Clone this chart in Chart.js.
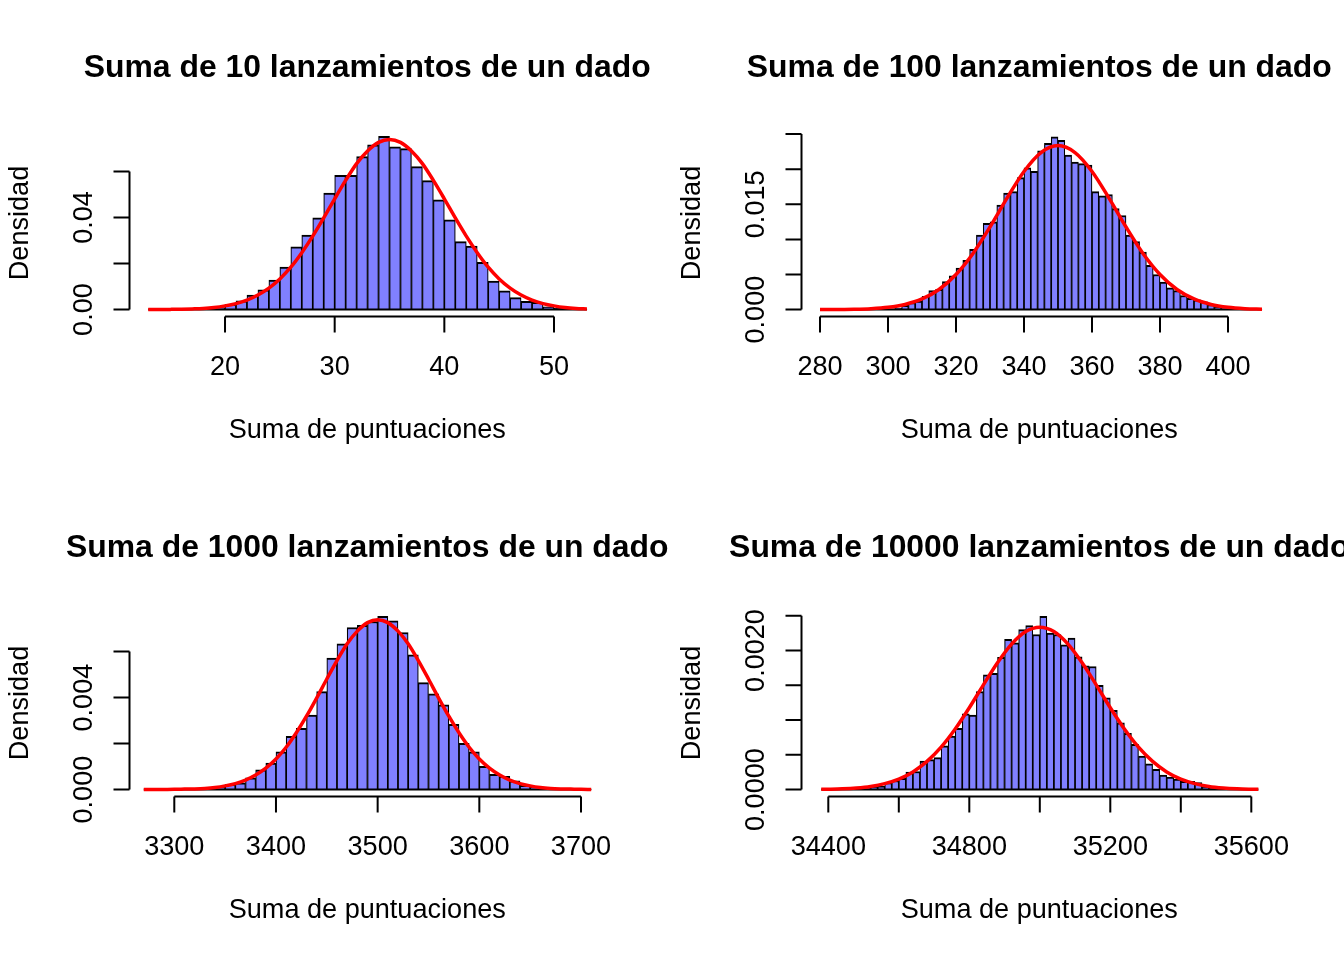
<!DOCTYPE html>
<html>
<head>
<meta charset="utf-8">
<script src="https://cdn.jsdelivr.net/npm/chart.js@4.4.1/dist/chart.umd.min.js"></script>
<style>
  body { margin: 0; background: #fff; }
  #lienzo { position: relative; width: 1344px; height: 960px; }
  canvas { position: absolute; }
</style>
</head>
<body>
<div id="lienzo">
  <canvas id="c10" width="672" height="480" style="left:0;top:0"></canvas>
  <canvas id="c100" width="672" height="480" style="left:672px;top:0"></canvas>
  <canvas id="c1000" width="672" height="480" style="left:0;top:480px"></canvas>
  <canvas id="c10000" width="672" height="480" style="left:672px;top:480px"></canvas>
</div>
<script>
// ---- Suma de 10 lanzamientos (clases de ancho 1) ----
var inicio10 = [13,14,15,16,17,18,19,20,21,22,23,24,25,26,27,28,29,30,31,32,33,34,35,36,37,38,39,40,41,42,43,44,45,46,47,48,49,50,51,52];
var dens10 = [0,0,0.0001,0.0001,0.0003,0.0005,0.0009,0.0023,0.0038,0.0063,0.0086,0.0128,0.0185,0.0272,0.0324,0.0398,0.0506,0.0583,0.0583,0.0664,
  0.0715,0.0752,0.0707,0.0699,0.0621,0.0560,0.0477,0.0390,0.0295,0.0276,0.0205,0.0124,0.0081,0.0052,0.0036,0.0032,0.0012,0.0005,0.0002,0.0001];
var curvaX10 = [13,14,15,16,17,18,19,20,21,22,23,24,25,26,27,28,29,30,31,32,33,34,35,36,37,38,39,40,41,42,43,44,45,46,47,48,49,50,51,52,53];
var curvaY10 = [0.00002,0.00004,0.00008,0.00015,0.0003,0.0005,0.0009,0.0016,0.0026,0.0041,0.0063,0.0093,0.0133,0.0184,0.0247,0.0319,0.0398,0.0481,0.0561,0.0634,
  0.0689,0.0726,0.0739,0.0726,0.0689,0.0634,0.0561,0.0481,0.0398,0.0319,0.0247,0.0184,0.0133,0.0093,0.0063,0.0041,0.0026,0.0016,0.0009,0.0005,0.0003];
var ticksX10 = [20,30,40,50];
var ticksY10 = [0,0.02,0.04,0.06];
var etiqY10 = ['0.00','','0.04',''];

// ---- Suma de 100 lanzamientos (ancho 2) ----
var inicio100 = [280,282,284,286,288,290,292,294,296,298,300,302,304,306,308,310,312,314,316,318,320,322,324,326,328,330,332,334,336,338,340,342,344,346,348,
  350,352,354,356,358,360,362,364,366,368,370,372,374,376,378,380,382,384,386,388,390,392,394,396,398,400,402,404,406,408];
var dens100 = [0,0,0,0,0,0.00001,0.00002,0.00003,0.00005,0.0001,0.0001,0.0002,0.0006,0.0010,0.0012,0.0019,0.0027,0.0029,0.0040,0.0048,0.0059,0.0070,0.0086,0.0106,0.0123,
  0.0125,0.0149,0.0166,0.0168,0.0188,0.0202,0.0197,0.0226,0.0237,0.0246,0.0241,0.0220,0.0210,0.0208,0.0206,0.0168,0.0162,0.0164,0.0144,0.0134,0.0106,0.0097,0.0082,
  0.0063,0.0050,0.0039,0.0031,0.0027,0.0020,0.0016,0.0014,0.0011,0.0007,0.0004,0.0003,0.0002,0.0001,0.00005,0.00002,0.00001];
var curvaX100 = [280,285,290,295,300,305,310,315,320,325,330,335,340,345,350,355,360,365,370,375,380,385,390,395,400,405,410];
var curvaY100 = [0.000005,0.00002,0.00005,0.00013,0.00032,0.00073,0.00151,0.00286,0.00500,0.00800,0.01177,0.01588,0.01968,0.02237,0.02336,
  0.02237,0.01968,0.01588,0.01177,0.00800,0.00500,0.00286,0.00151,0.00073,0.00032,0.00013,0.00005];
var ticksX100 = [280,300,320,340,360,380,400];
var ticksY100 = [0,0.005,0.010,0.015,0.020,0.025];
var etiqY100 = ['0.000','','','0.015','',''];

// ---- Suma de 1000 lanzamientos (ancho 10) ----
var inicio1000 = [3270,3280,3290,3300,3310,3320,3330,3340,3350,3360,3370,3380,3390,3400,3410,3420,3430,3440,3450,3460,3470,3480,3490,
  3500,3510,3520,3530,3540,3550,3560,3570,3580,3590,3600,3610,3620,3630,3640,3650,3660,3670,3680,3690,3700];
var dens1000 = [0,0,0.00001,0.00002,0.00003,0.00005,0.00008,0.00012,0.00023,0.00029,0.00051,0.00086,0.00115,0.00164,0.00232,0.00266,0.00324,0.00426,
  0.00572,0.00634,0.00705,0.00714,0.00731,0.00753,0.00734,0.00683,0.00586,0.00465,0.00416,0.00368,0.00284,0.00201,0.00164,0.00101,0.00066,0.00058,
  0.00038,0.00019,0.00010,0.00007,0.00004,0.00002,0.00001,0.00001];
var curvaX1000 = [3270,3280,3290,3300,3310,3320,3330,3340,3350,3360,3370,3380,3390,3400,3410,3420,3430,3440,3450,3460,3470,3480,3490,3500,
  3510,3520,3530,3540,3550,3560,3570,3580,3590,3600,3610,3620,3630,3640,3650,3660,3670,3680,3690,3700,3710];
var curvaY1000 = [0,0,0.000005,0.00001,0.00002,0.00003,0.00005,0.00009,0.00016,0.00026,0.00041,0.00063,0.00093,0.00133,0.00184,0.00247,0.00319,0.00398,
  0.00481,0.00561,0.00634,0.00689,0.00726,0.00739,0.00726,0.00689,0.00634,0.00561,0.00481,0.00398,0.00319,0.00247,0.00184,0.00133,0.00093,0.00063,
  0.00041,0.00026,0.00016,0.00009,0.00005,0.00003,0.00002,0.00001,0.000005];
var ticksX1000 = [3300,3400,3500,3600,3700];
var ticksY1000 = [0,0.002,0.004,0.006];
var etiqY1000 = ['0.000','','0.004',''];

// ---- Suma de 10000 lanzamientos (ancho 20) ----
var inicio10000 = [34380,34400,34420,34440,34460,34480,34500,34520,34540,34560,34580,34600,34620,34640,34660,34680,34700,34720,34740,34760,34780,
  34800,34820,34840,34860,34880,34900,34920,34940,34960,34980,35000,35020,35040,35060,35080,35100,35120,35140,35160,35180,35200,35220,35240,
  35260,35280,35300,35320,35340,35360,35380,35400,35420,35440,35460,35480,35500,35520,35540,35560,35580,35600];
var dens10000 = [0,0.00001,0.00001,0.00001,0.00002,0.00002,0.00003,0.00004,0.00005,0.00010,0.00013,0.00016,0.00025,0.00026,0.00041,0.00043,0.00046,
  0.00063,0.00077,0.00088,0.00109,0.00107,0.00141,0.00165,0.00167,0.00190,0.00216,0.00211,0.00230,0.00236,0.00223,0.00249,0.00225,0.00223,0.00208,
  0.00218,0.00191,0.00178,0.00177,0.00150,0.00132,0.00114,0.00096,0.00081,0.00065,0.00048,0.00037,0.00029,0.00021,0.00018,0.00015,0.00012,0.00012,
  0.00010,0.00004,0.00002,0.00001,0.00001,0.00001,0,0,0];
var curvaX10000 = [34380,34400,34440,34480,34520,34560,34600,34640,34680,34720,34760,34800,34840,34880,34920,34960,35000,
  35040,35080,35120,35160,35200,35240,35280,35320,35360,35400,35440,35480,35520,35560,35600,35620];
var curvaY10000 = [0.000003,0.000005,0.000011,0.000023,0.000045,0.000085,0.000150,0.000254,0.000405,0.000610,0.000871,0.001177,0.001506,0.001824,
  0.002092,0.002273,0.002336,0.002273,0.002092,0.001824,0.001506,0.001177,0.000871,0.000610,0.000405,0.000254,0.000150,0.000085,0.000045,
  0.000023,0.000011,0.000005,0.000003];
var ticksX10000 = [34400,34600,34800,35000,35200,35400,35600];
var etiqX10000 = ['34400','','34800','','35200','','35600'];
var ticksY10000 = [0,0.0005,0.0010,0.0015,0.0020,0.0025];
var etiqY10000 = ['0.0000','','','','0.0020',''];

var fuente = '"Liberation Sans", Arial, sans-serif';

// dibuja los ejes al estilo de R (linea solo entre el primer y el ultimo tick)
var ejesR = {
  id: 'ejesR',
  afterDatasetDraw: function (chart, args, opts) {
    if (args.meta.type !== 'bar') return;
    var ctx = chart.ctx, sx = chart.scales.x, sy = chart.scales.y;
    var y0 = sy.getPixelForValue(0);
    ctx.save();
    ctx.strokeStyle = '#000';
    ctx.lineWidth = 2;
    ctx.beginPath();
    ctx.moveTo(sx.getPixelForValue(opts.desde), y0);
    ctx.lineTo(sx.getPixelForValue(opts.hasta), y0);
    ctx.stroke();
    ctx.restore();
  },
  afterDraw: function (chart, args, opts) {
    var ctx = chart.ctx, sx = chart.scales.x, sy = chart.scales.y, area = chart.chartArea;
    var cx = (area.left + area.right) / 2, cy = (area.top + area.bottom) / 2;
    ctx.save();
    ctx.strokeStyle = '#000';
    ctx.fillStyle = '#000';
    ctx.lineWidth = 2;

    // eje x
    var yA = area.bottom;
    ctx.beginPath();
    ctx.moveTo(sx.getPixelForValue(opts.ticksX[0]), yA);
    ctx.lineTo(sx.getPixelForValue(opts.ticksX[opts.ticksX.length - 1]), yA);
    opts.ticksX.forEach(function (t) {
      var p = sx.getPixelForValue(t);
      ctx.moveTo(p, yA);
      ctx.lineTo(p, yA + 16);
    });
    ctx.stroke();
    ctx.font = '27.1px ' + fuente;
    ctx.textAlign = 'center';
    ctx.textBaseline = 'alphabetic';
    opts.ticksX.forEach(function (t, i) {
      var txt = opts.etiqX ? opts.etiqX[i] : String(t);
      if (txt) ctx.fillText(txt, sx.getPixelForValue(t), yA + 58.5);
    });

    // eje y
    var xA = area.left;
    ctx.beginPath();
    ctx.moveTo(xA, sy.getPixelForValue(opts.ticksY[0]));
    ctx.lineTo(xA, sy.getPixelForValue(opts.ticksY[opts.ticksY.length - 1]));
    opts.ticksY.forEach(function (t) {
      var p = sy.getPixelForValue(t);
      ctx.moveTo(xA, p);
      ctx.lineTo(xA - 16, p);
    });
    ctx.stroke();
    opts.ticksY.forEach(function (t, i) {
      if (!opts.etiqY[i]) return;
      ctx.save();
      ctx.translate(xA - 38, sy.getPixelForValue(t));
      ctx.rotate(-Math.PI / 2);
      ctx.fillText(opts.etiqY[i], 0, 0);
      ctx.restore();
    });

    // titulos
    ctx.fillText('Suma de puntuaciones', cx, 438.3);
    ctx.save();
    ctx.translate(28.3, cy);
    ctx.rotate(-Math.PI / 2);
    ctx.fillText('Densidad', 0, 0);
    ctx.restore();
    ctx.font = 'bold 31.9px ' + fuente;
    ctx.fillText(opts.titulo, cx, 77.3);
    ctx.restore();
  }
};

function crearPanel(id, titulo, inicio, ancho, dens, curvaX, curvaY, xMin, xMax, yMax, ticksX, etiqX, ticksY, etiqY) {
  var barras = inicio.map(function (b, i) { return { x: b + ancho / 2, y: dens[i] }; });
  var curva = curvaX.map(function (v, i) { return { x: v, y: curvaY[i] }; });
  return new Chart(document.getElementById(id).getContext('2d'), {
    type: 'bar',
    data: {
      datasets: [{
        type: 'line',
        data: curva,
        borderColor: '#ff0000',
        borderWidth: 3.5,
        pointRadius: 0,
        cubicInterpolationMode: 'monotone',
        order: 0
      }, {
        type: 'bar',
        data: barras,
        backgroundColor: '#8080ff',
        borderColor: '#000000',
        borderWidth: { top: 2, left: 1.2, right: 1.2, bottom: 0 },
        borderSkipped: false,
        barPercentage: 1,
        categoryPercentage: 1,
        order: 1
      }]
    },
    options: {
      responsive: false,
      devicePixelRatio: 1,
      animation: false,
      events: [],
      layout: { padding: { left: 129.5, right: 67, top: 129.5, bottom: 163.5 } },
      scales: {
        x: { type: 'linear', min: xMin, max: xMax, offset: false, display: false },
        y: { type: 'linear', min: -0.04 * yMax, max: 1.04 * yMax, display: false }
      },
      plugins: {
        legend: { display: false },
        tooltip: { enabled: false },
        ejesR: {
          titulo: titulo,
          desde: inicio[0],
          hasta: inicio[inicio.length - 1] + ancho,
          ticksX: ticksX, etiqX: etiqX,
          ticksY: ticksY, etiqY: etiqY
        }
      }
    },
    plugins: [ejesR]
  });
}

crearPanel('c10', 'Suma de 10 lanzamientos de un dado', inicio10, 1, dens10, curvaX10, curvaY10,
  11.29, 54.65, 0.0752, ticksX10, null, ticksY10, etiqY10);
crearPanel('c100', 'Suma de 100 lanzamientos de un dado', inicio100, 2, dens100, curvaX100, curvaY100,
  274.56, 414.41, 0.02467, ticksX100, null, ticksY100, etiqY100);
crearPanel('c1000', 'Suma de 1000 lanzamientos de un dado', inicio1000, 10, dens1000, curvaX1000, curvaY1000,
  3255.94, 3723.6, 0.00753, ticksX1000, null, ticksY1000, etiqY1000);
crearPanel('c10000', 'Suma de 10000 lanzamientos de un dado', inicio10000, 20, dens10000, curvaX10000, curvaY10000,
  34323.97, 35672.9, 0.00249, ticksX10000, etiqX10000, ticksY10000, etiqY10000);
</script>
</body>
</html>
